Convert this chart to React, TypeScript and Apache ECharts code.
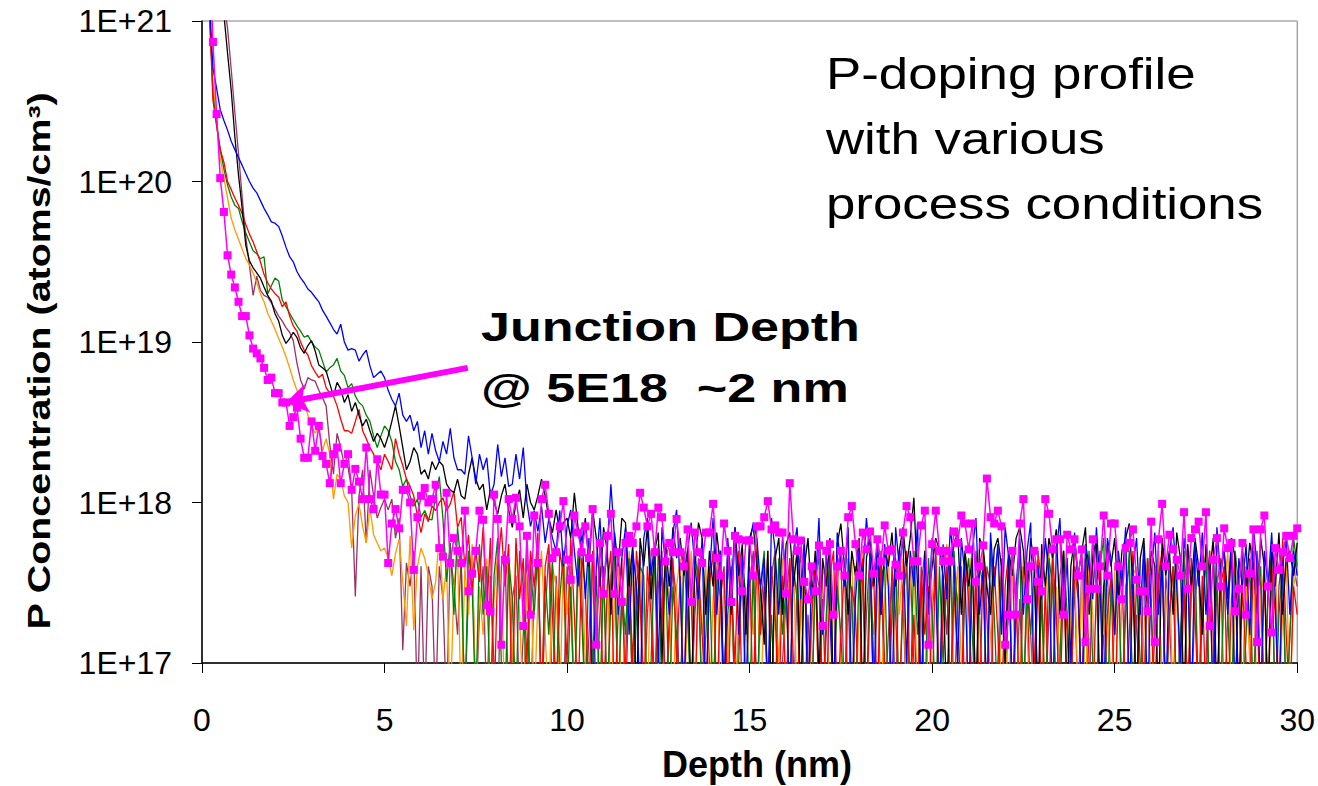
import React, { useEffect, useRef } from "react";
import * as echarts from "echarts";

// Depth grid of the SIMS profile (nm): 0.2 ... 30.0 in 0.1 nm steps
const DEPTH_START = 0.2;
const DEPTH_STEP = 0.1;
const DEPTH_COUNT = 299;
const DEPTH: number[] = Array.from({ length: DEPTH_COUNT }, (_, i) => +(DEPTH_START + DEPTH_STEP * i).toFixed(1));

// Concentrations in units of 1E+17 atoms/cm3 (values < 1 fall below the axis floor)
const MAGENTA = [
  30000, 7400, 2630, 1050, 646, 347, 263, 219, 178,
  145, 145, 110, 91, 85, 79, 69, 58, 60, 48,
  48, 42, 42, 30, 34, 39, 25, 19, 19, 32,
  21, 30, 19.5, 17.4, 13.2, 20, 22, 13.2, 17.4, 20,
  12, 16.2, 13.5, 10.5, 22, 10.5, 9.1, 18.6, 11.2, 11.2,
  4.2, 7.4, 9.1, 6.9, 12, 12, 10, 3.8, 8.1, 11,
  12.3, 10, 10.5, 12.9, 5.2, 4.6, 11.5, 4.2, 6, 5,
  4.2, 8.9, 2.8, 3.6, 5, 8.9, 7.8, 2.3, 2.1, 11.2,
  7.9, 1.3, 4.4, 10.5, 7.9, 10.7, 7.1, 1.7, 6.2, 2,
  8.3, 4.2, 10.5, 12.9, 8.5, 4.5, 4.9, 7.1, 10.2, 4.4,
  3.3, 8.3, 6.5, 4.9, 7.1, 4.5, 9.1, 1.3, 5.6, 2.7,
  6.2, 8.5, 2.7, 4.9, 2.4, 5.6, 6.2, 5.6, 7.1, 11.5,
  9.3, 7.1, 8.5, 4.9, 9.3, 8.1, 4.3, 5.6, 4.9, 7.9,
  4.9, 4, 6.8, 2.4, 6.5, 4.9, 4.2, 6.5, 6.5, 9.8,
  4.5, 3.5, 7.4, 5, 2.4, 6.2, 5.9, 2.8, 5.8, 5.8,
  3.5, 7.1, 7.1, 8.1, 10.2, 6.8, 7.2, 6.5, 6.5, 2.7,
  13.2, 5.9, 5, 5.8, 3.2, 2.5, 4, 2.8, 5.4, 1.7,
  5, 5.5, 2, 4, 5, 3.5, 8.1, 9.5, 5.5, 3.5,
  6.5, 5.1, 6.6, 3.6, 5.9, 4.3, 7.2, 5, 5.1, 4.1,
  3.5, 6.5, 9.5, 8.1, 4.3, 4.3, 7.2, 8.9, 1.3, 5.5,
  8.9, 5, 4.3, 5, 4.3, 6.6, 5.6, 8.3, 7.4, 5.1,
  7.4, 3.2, 4, 5.4, 14.1, 8.1, 7.4, 8.9, 7.1, 1.3,
  2, 5, 2, 7.4, 10.5, 2.5, 4, 5, 3.2, 2.8,
  10.5, 8.5, 5.1, 5.9, 5.9, 2, 6.3, 5.1, 5.9, 3.5,
  5.1, 1.35, 2.9, 5.9, 2.9, 4, 8.3, 3.5, 7.4, 7.4,
  4, 2.5, 5.2, 5.6, 6.8, 3.3, 2.8, 2.8, 2.1, 7.6,
  1.35, 5.9, 9.8, 4, 6.3, 5.1, 4.4, 3.5, 8.7, 2.9,
  6, 6.8, 7.6, 4, 8.7, 1.7, 4.4, 6, 3, 6.9,
  5.2, 5.6, 2.1, 2.9, 5.6, 2, 3.6, 6.8, 1.35, 6.8,
  8.3, 3, 1.55, 5.2, 3.8, 4.9, 6.2, 4.5, 6.2, 6.9,
];

const BLUE = [
  14000, 5100, 3800, 2800, 2400, 2090, 1780, 1580, 1410,
  1260, 1120, 1000, 910, 850, 760, 680, 620, 560, 550,
  525, 457, 390, 340, 316, 275, 251, 234, 214, 204,
  190, 178, 158, 145, 132, 120, 112, 129, 100, 89,
  91, 89, 76, 83, 89, 71, 60, 63, 66, 60,
  50, 44, 40, 48, 35, 32, 35, 28, 32, 22,
  28, 20, 27, 21, 18, 24, 20, 29, 19, 16,
  16, 15, 26, 19, 13, 20, 16, 19, 11, 13,
  23, 14.5, 19, 12.6, 13, 20, 14, 22, 10, 7.1,
  8.9, 6.6, 9.5, 5.6, 7.9, 6, 5, 8.9, 4, 7.1,
  9, 5, 3, 7, 2.5, 6, 0.5, 4, 8, 3,
  5, 13, 6, 2, 4.5, 7, 1.5, 5, 3, 0.5,
  6, 8, 3.5, 5.5, 1, 7, 4, 2, 6.5, 9,
  3, 0.5, 5, 7.5, 4, 2.5, 6, 0.5, 3.5, 8,
  2, 5, 0.5, 6, 3, 7, 1.5, 4.5, 0.5, 5.5,
  7.5, 6, 3, 4.5, 0.5, 8, 5, 2, 6, 3.5,
  0.5, 5, 7, 2.5, 6, 0.5, 4, 3, 8, 1.5,
  5, 2, 0.5, 6.5, 4, 3, 7, 0.5, 2.5, 5,
  3.5, 8, 4.5, 0.5, 6, 2, 5.5, 3, 0.5, 7,
  4, 6, 1, 5, 3, 7.5, 0.5, 4.5, 2, 6,
  3, 0.5, 5.5, 2.5, 7, 4, 1, 6, 3.5, 0.5,
  5, 8, 2, 4, 0.5, 6.5, 3, 5.5, 1.5, 7,
  4.5, 0.5, 3, 6, 2, 5, 7.5, 0.5, 4, 2.5,
  6, 3.5, 0.5, 5, 8, 2, 4.5, 1, 6.5, 3,
  0.5, 5.5, 4, 2.5, 7, 3, 0.5, 6, 4.5, 1.5,
  5, 3, 7, 0.5, 4, 6, 2, 5.5, 0.5, 3.5,
  6.5, 2, 4.5, 0.5, 5, 7, 3, 1, 6, 4,
  0.5, 5.5, 3, 6.5, 2, 4, 0.5, 7, 3.5, 5,
  2, 6, 0.5, 4.5, 3, 5.5, 1.5, 7, 4, 0.5,
  5, 3, 6.5, 2.5, 0.5, 4, 6, 2, 5, 3.5,
];

const BLACK = [
  40000, 30000, 25000, 18000, 11000, 6300, 3700, 1900, 1100,
  680, 400, 320, 290, 270, 250, 220, 195, 180, 150,
  135, 110, 98, 105, 115, 107, 92, 85, 95, 102,
  88, 72, 69, 66, 55, 46, 56, 51, 42, 47,
  37, 42, 35, 30, 33, 28, 24, 27, 25, 22,
  26, 32, 40, 30, 22, 16, 18, 22, 20, 15,
  16, 14, 18, 16, 18, 17, 13, 12, 11.5, 14,
  11, 10.5, 15, 19, 14, 12, 13, 9, 12, 10,
  8.5, 11, 13, 9, 7, 10, 12, 8, 13, 10,
  9, 11, 14, 11, 8, 6.5, 9, 6.5, 7.5, 8,
  6, 11.5, 7, 5, 8, 4, 9, 6, 3, 7,
  5, 2, 6.5, 4, 8, 7.5, 3, 5.5, 0.5, 6,
  4, 7, 2.5, 5, 6.5, 1, 5.5, 3, 7, 4.5,
  6, 3.5, 5, 0.5, 4, 7.5, 6, 2, 5, 3,
  6.5, 4, 0.5, 5, 2, 7, 3.5, 5.5, 1.5, 6,
  7.2, 4, 3, 1.3, 5, 0.5, 4.5, 6, 2, 5.5,
  6.5, 3, 5, 0.5, 4, 6, 2.5, 5, 0.8, 4.5,
  3, 6, 0.5, 5.5, 7.4, 4, 2, 5, 3.5, 6,
  0.5, 4.5, 6, 3, 5, 2, 5.2, 4, 6.5, 3,
  5, 7, 4, 6, 10.7, 3, 0.5, 5, 2.5, 4,
  6, 5, 3.5, 0.5, 4, 5.5, 6.8, 2, 5, 3,
  4.5, 0.5, 6, 5.2, 3, 2, 5.1, 6, 4, 1,
  5, 3.5, 6, 7, 5, 2.5, 6, 4, 0.5, 5.5,
  3, 6, 4.5, 6.8, 2, 5, 0.5, 4, 6, 3.5,
  5, 7, 2, 4.5, 6, 0.5, 3, 5.5, 4, 6,
  2.5, 5, 6, 7.4, 3, 0.5, 4.5, 6, 2, 5,
  4, 0.5, 6, 3.5, 5, 2, 6.5, 4.5, 0.5, 5.5,
  3, 6, 4, 1.5, 5.5, 3.5, 6, 0.5, 4, 5,
  2.5, 6, 4.5, 0.5, 5, 3, 5.6, 4, 2, 6,
  4, 0.5, 5.5, 3, 6.5, 2, 4.5, 5, 3.5, 5.6,
];

const RED = [
  12000, 3200, 2240, 1580, 1320, 1000, 890, 790, 710,
  630, 540, 470, 420, 365, 316, 263, 234, 214, 200,
  190, 166, 178, 145, 126, 117, 100, 89, 83, 71,
  65, 60, 63, 52, 48, 46, 40, 33, 28, 28,
  27, 32, 38, 28, 25, 22, 20, 18, 16, 20,
  18, 16, 25, 20, 17, 14, 12.6, 11, 8.3, 6.5,
  8.5, 7.6, 9.5, 8.9, 10, 10.7, 8.9, 9.8, 11.7, 7,
  8.1, 4, 6.3, 2.8, 5, 3.2, 7, 2, 6, 0.5,
  4, 7, 3, 5.5, 0.5, 6, 2.5, 4.5, 1, 5,
  3, 6.5, 0.5, 4, 5.5, 2, 0.5, 5, 3.5, 1,
  6, 2, 0.5, 4.5, 3, 0.5, 5, 1.5, 4, 0.5,
  3, 5, 0.5, 2, 4.5, 0.5, 3.5, 1, 5, 2.5,
  0.5, 4, 2, 0.5, 5.5, 3, 0.5, 2, 4.5, 1,
  3.5, 0.5, 5, 2.5, 0.5, 4, 1.5, 0.5, 3, 5,
  0.5, 2.5, 4, 0.5, 3, 1, 5, 0.5, 2, 4,
  0.5, 5.5, 1.5, 3, 0.5, 4, 2, 0.5, 3.5, 0.5,
  4.5, 1, 0.5, 3, 5, 0.5, 2, 4, 0.5, 2.5,
  0.5, 3.5, 5, 0.5, 1.5, 4, 0.5, 3, 2, 0.5,
  4.5, 0.5, 2.5, 3.5, 0.5, 5, 1, 0.5, 4, 2,
  0.5, 3, 5, 0.5, 2, 0.5, 4, 1.5, 3, 0.5,
  5.5, 0.5, 2, 4, 0.5, 3, 1, 0.5, 4.5, 2.5,
  0.5, 3.5, 0.5, 5, 2, 0.5, 4, 1.5, 0.5, 3,
  5, 0.5, 2.5, 0.5, 4, 3, 0.5, 1, 4.5, 0.5,
  3, 0.5, 5, 2, 0.5, 3.5, 1.5, 0.5, 4, 2.5,
  0.5, 4.5, 1, 0.5, 3, 5, 0.5, 2, 3.5, 0.5,
  2.5, 4, 0.5, 1.5, 5, 0.5, 3, 0.5, 4.5, 2,
  0.5, 3.5, 5, 0.5, 2, 4, 0.5, 1, 3, 0.5,
  4.5, 2, 0.5, 3.5, 0.5, 5, 1.5, 0.5, 3, 4,
  0.5, 2.5, 4.5, 0.5, 3, 1, 0.5, 5, 2, 0.5,
  3.5, 0.5, 4, 2, 0.5, 6, 1.5, 0.5, 3, 2,
];

const GREEN = [
  13000, 3500, 2240, 1580, 1200, 950, 800, 710, 680,
  560, 480, 420, 370, 355, 330, 340, 200, 224, 250,
  240, 182, 166, 151, 138, 126, 117, 107, 110, 100,
  93, 89, 76, 65, 69, 72, 79, 66, 62, 52,
  55, 46, 42, 40, 35, 32, 26, 22, 26, 30,
  28, 24, 18, 16, 12.6, 14, 11, 9.5, 10.5, 8.1,
  8.9, 7.9, 7.8, 11, 14.5, 7.9, 3.2, 5.6, 2, 7,
  4, 0.5, 5, 3, 0.5, 5.5, 2, 4, 0.5, 3.5,
  6, 1, 0.5, 4.5, 2.5, 0.5, 5, 3, 0.5, 4,
  2, 5, 0.5, 3.5, 1.5, 4.5, 0.5, 2.5, 5, 0.5,
  3, 0.5, 4.5, 2, 0.5, 5, 1, 3.5, 0.5, 4,
  0.5, 2.5, 5, 0.5, 3, 1.5, 4.5, 0.5, 2, 4,
  3.5, 0.5, 1, 5, 0.5, 2.5, 4, 0.5, 3, 1.5,
  0.5, 4.5, 2, 0.5, 5, 3, 0.5, 1.5, 4, 0.5,
  3, 5, 0.5, 2, 4, 0.5, 1, 4.5, 2.5, 0.5,
  4, 0.5, 3, 5, 0.5, 2, 0.5, 4.5, 1.5, 3,
  0.5, 4, 2.5, 0.5, 5, 1, 0.5, 3.5, 4.5, 0.5,
  2, 5, 0.5, 3, 1.5, 0.5, 4.5, 2.5, 0.5, 4,
  3, 0.5, 5, 1, 0.5, 3.5, 4, 0.5, 2, 4.5,
  0.5, 2.5, 4, 0.5, 5, 1.5, 3, 0.5, 4.5, 2,
  0.5, 4, 1, 3.5, 0.5, 5, 2, 0.5, 3, 4.5,
  1.5, 0.5, 4, 3, 0.5, 5.5, 2, 0.5, 3.5, 1,
  4.5, 0.5, 2, 5, 0.5, 3, 1.5, 4, 0.5, 2.5,
  0.5, 4.5, 3, 0.5, 1, 5, 2, 0.5, 4, 3,
  0.5, 2.5, 5, 1, 0.5, 4, 6, 0.5, 3, 1.5,
  4, 0.5, 2, 5, 0.5, 3.5, 1, 0.5, 4.5, 2.5,
  0.5, 3, 5, 0.5, 2, 4, 0.5, 1.5, 5, 0.5,
  3, 4.5, 0.5, 2, 5, 0.5, 1, 3.5, 0.5, 4,
  2, 0.5, 5, 3, 0.5, 1.5, 4.5, 0.5, 2.5, 4,
  0.5, 3, 5, 0.5, 2, 4, 0.5, 1.5, 6, 4,
];

const ORANGE = [
  11000, 4170, 2400, 1410, 1050, 790, 590, 500, 437,
  380, 331, 302, 269, 234, 200, 178, 151, 135, 120,
  105, 93, 81, 69, 58, 50, 44, 43, 35, 30,
  27, 30, 21, 25, 20, 10.5, 15, 14, 11, 10,
  5.2, 8.3, 9.8, 7.1, 5.6, 9.3, 6.3, 5.6, 5, 5.2,
  4.5, 3.5, 4.8, 5.9, 3.2, 1.7, 6.2, 1.6, 4, 5.2,
  4.5, 3.5, 2.5, 3.2, 6.2, 2.5, 4, 0.5, 3, 5,
  0.5, 4, 2, 5.5, 0.5, 3, 1.5, 4.5, 0.5, 2.5,
  5, 3, 0.5, 4, 1, 5.5, 2, 0.5, 3.5, 4.5,
  0.5, 2.5, 5, 1.5, 0.5, 4, 3, 0.5, 5, 2,
  4, 0.5, 3, 5, 1, 0.5, 4.5, 2, 0.5, 3.5,
  5, 0.5, 2.5, 4, 0.5, 1.5, 5, 3, 0.5, 4,
  2, 0.5, 5, 3.5, 1, 0.5, 4.5, 2.5, 0.5, 3,
  4.5, 0.5, 2, 5, 0.5, 3, 1.5, 4, 0.5, 2.5,
  5, 0.5, 3.5, 1, 4.5, 0.5, 2, 5, 0.5, 3,
  1.5, 4, 0.5, 2.5, 5, 0.5, 3, 1, 4.5, 0.5,
  3, 5, 0.5, 2, 4, 0.5, 1.5, 5, 0.5, 3.5,
  4, 0.5, 2.5, 5, 1, 0.5, 3.5, 4.5, 0.5, 2,
  5, 0.5, 3, 1.5, 4, 0.5, 2.5, 5, 0.5, 3.5,
  2, 4.5, 0.5, 3, 5, 0.5, 1.5, 4, 0.5, 2.5,
  4.5, 0.5, 3, 5.5, 0.5, 2, 4, 1, 0.5, 3.5,
  5, 0.5, 2.5, 4, 0.5, 1.5, 3.5, 5, 0.5, 2,
  0.5, 4, 3, 0.5, 5, 1.5, 0.5, 3.5, 4.5, 0.5,
  2.5, 5, 0.5, 3, 1, 4.5, 0.5, 2, 5, 0.5,
  3.5, 0.5, 4.5, 2, 0.5, 5, 1.5, 3, 0.5, 4,
  0.5, 2.5, 5, 0.5, 3.5, 4, 0.5, 1.5, 4.5, 0.5,
  3, 5, 0.5, 2, 4.5, 0.5, 3.5, 1, 5, 0.5,
  2.5, 4, 0.5, 3, 5, 0.5, 1.5, 4.5, 0.5, 3,
  5, 0.5, 2, 4, 0.5, 3.5, 1, 5, 0.5, 2.5,
  4, 0.5, 3, 5, 0.5, 2, 4.5, 0.5, 3, 4,
];

const MAROON = [
  50000, 40000, 30000, 20000, 13000, 9000, 5000, 2700, 1500,
  800, 450, 300, 195, 257, 210, 195, 190, 175, 160,
  145, 135, 123, 115, 102, 74, 58, 51, 60, 58,
  57, 50, 45, 40, 23, 15, 27, 22, 17, 16.6,
  12, 2.6, 11, 16, 5.6, 16, 11, 8, 9.3, 10.5,
  9, 10.5, 6, 8, 1.2, 4.2, 3, 5, 0.5, 4,
  0.5, 4, 3, 0.5, 4, 2.5, 0.5, 5, 3, 1.5,
  4.5, 0.5, 3, 5, 0.5, 2, 4, 0.5, 3.5, 1,
  0.5, 4, 5, 0.5, 2.5, 3.5, 0.5, 1.5, 5, 0.5,
  3, 4.5, 0.5, 2, 5, 0.5, 3.5, 1, 0.5, 4,
  2.5, 0.5, 5, 3, 0.5, 1.5, 4.5, 0.5, 2, 4,
  0.5, 3.5, 5, 0.5, 2.5, 1, 4, 0.5, 3, 5,
  0.5, 2, 4.5, 0.5, 3, 5, 0.5, 1.5, 4, 2.5,
  0.5, 5, 3, 0.5, 2, 4.5, 0.5, 3.5, 1, 0.5,
  4, 2.5, 0.5, 5, 3, 0.5, 1.5, 4, 0.5, 3,
  5, 0.5, 2, 4, 0.5, 3.5, 5, 0.5, 1, 2.5,
  4.5, 0.5, 3, 5, 0.5, 2, 0.5, 4, 3, 0.5,
  1.5, 4.5, 0.5, 3, 5, 0.5, 2.5, 0.5, 4, 3.5,
  0.5, 2, 5, 0.5, 3, 4.5, 0.5, 1.5, 3.5, 0.5,
  5, 2.5, 0.5, 4, 1, 0.5, 3, 5, 0.5, 2,
  4, 0.5, 3.5, 1.5, 5, 0.5, 2.5, 4, 0.5, 3,
  0.5, 5, 2, 0.5, 4, 3, 0.5, 1, 4.5, 0.5,
  3, 5, 0.5, 2.5, 0.5, 4, 1.5, 0.5, 5, 3,
  0.5, 2, 4.5, 0.5, 3.5, 5, 0.5, 1, 3, 0.5,
  4.5, 2.5, 0.5, 5, 3, 0.5, 1.5, 4, 0.5, 2,
  5, 0.5, 3, 4, 0.5, 2, 0.5, 4.5, 3, 0.5,
  1.5, 5, 0.5, 3.5, 2, 0.5, 4.5, 0.5, 3, 5,
  0.5, 2.5, 4, 0.5, 1, 5, 0.5, 3, 4.5, 0.5,
  2, 5, 0.5, 3.5, 0.5, 4, 1.5, 0.5, 5, 3,
  0.5, 2.5, 4.5, 0.5, 3, 5, 0.5, 1.5, 4, 3,
];

const Y_TICK_LABELS = ["1E+17", "1E+18", "1E+19", "1E+20", "1E+21"];
const X_TITLE = "Depth (nm)";
const Y_TITLE = "P Concentration (atoms/cm³)";
const NOTE_LINES = ["P-doping profile", "with various", "process conditions"];
const JUNCTION_LINES = ["Junction Depth", "@ 5E18  ~2 nm"];
// arrow from the label to the magenta curve at ~2 nm, 5E18 (depth nm, 1E17 units)
const ARROW_FROM = [7.28, 69];
const ARROW_TO = [2.3, 42];

const FONT = "'Liberation Sans', Arial, Helvetica, sans-serif";

const LINES = [
  { name: "maroon", color: "#993366", data: MAROON },
  { name: "orange", color: "#FF9900", data: ORANGE },
  { name: "green", color: "#008000", data: GREEN },
  { name: "red", color: "#FF0000", data: RED },
  { name: "black", color: "#000000", data: BLACK },
  { name: "blue", color: "#0000FF", data: BLUE },
];

export default function App() {
  const ref = useRef<HTMLDivElement>(null);
  useEffect(() => {
    document.body.style.margin = "0";
    if (!ref.current) return;
    const chart = echarts.init(ref.current, undefined, { renderer: "svg" });
    const pair = (vals: number[]) => vals.map((v, i) => [DEPTH[i], v]);
    const series: any[] = LINES.map((s) => ({
      name: s.name,
      type: "line",
      data: pair(s.data),
      symbol: "none",
      showSymbol: false,
      clip: true,
      lineStyle: { color: s.color, width: 1.3 },
      itemStyle: { color: s.color },
    }));
    series.push({
      name: "magenta",
      type: "line",
      data: pair(MAGENTA),
      symbol: "rect",
      symbolSize: 8,
      showSymbol: true,
      clip: true,
      lineStyle: { color: "#FF00FF", width: 1.5 },
      itemStyle: { color: "#FF00FF" },
      z: 5,
      markLine: {
        silent: true,
        animation: false,
        symbol: ["none", "arrow"],
        symbolSize: 22,
        label: { show: false },
        lineStyle: { color: "#FF00FF", width: 6, type: "solid" },
        data: [[{ coord: ARROW_FROM }, { coord: ARROW_TO }]],
      },
    });

    const graphic: any[] = [];
    NOTE_LINES.forEach((t, i) => {
      graphic.push({
        type: "text",
        x: 826,
        y: 74 + i * 65,
        scaleX: 1.2,
        style: {
          text: t,
          font: `44px ${FONT}`,
          fill: "#000",
          align: "left",
          verticalAlign: "middle",
          textAlign: "left",
          textVerticalAlign: "middle",
        },
      });
    });
    JUNCTION_LINES.forEach((t, i) => {
      graphic.push({
        type: "text",
        x: 481,
        y: 327 + i * 61,
        scaleX: 1.27,
        style: {
          text: t,
          font: `bold 41px ${FONT}`,
          fill: "#000",
          align: "left",
          verticalAlign: "middle",
          textAlign: "left",
          textVerticalAlign: "middle",
        },
      });
    });
    graphic.push({
      type: "text",
      x: 40,
      y: 361,
      rotation: Math.PI / 2,
      scaleX: 1.27,
      style: {
        text: Y_TITLE,
        font: `bold 31px ${FONT}`,
        fill: "#000",
        align: "center",
        verticalAlign: "middle",
        textAlign: "center",
        textVerticalAlign: "middle",
      },
    });
    graphic.push({
      type: "text",
      x: 757,
      y: 764,
      style: {
        text: X_TITLE,
        font: `bold 36px ${FONT}`,
        fill: "#000",
        align: "center",
        verticalAlign: "middle",
        textAlign: "center",
        textVerticalAlign: "middle",
      },
    });

    chart.setOption({
      animation: false,
      backgroundColor: "#fff",
      grid: {
        left: 202,
        right: 20,
        top: 21,
        bottom: 123,
        show: true,
        borderColor: "#808080",
        borderWidth: 1,
        backgroundColor: "transparent",
      },
      xAxis: {
        type: "value",
        min: 0,
        max: 30,
        interval: 5,
        axisLine: { show: true, lineStyle: { color: "#000", width: 1.5 } },
        axisTick: { show: true, inside: false, length: 10, lineStyle: { color: "#000" } },
        axisLabel: { fontSize: 32, fontFamily: FONT, color: "#000", margin: 41 },
        splitLine: { show: false },
      },
      yAxis: {
        type: "log",
        logBase: 10,
        min: 1,
        max: 10000,
        axisLine: { show: true, lineStyle: { color: "#000", width: 1.5 } },
        axisTick: { show: true, inside: false, length: 10, lineStyle: { color: "#000" } },
        axisLabel: {
          fontSize: 32,
          fontFamily: FONT,
          color: "#000",
          margin: 30,
          formatter: (v: number) => Y_TICK_LABELS[Math.round(Math.log10(v))] ?? "",
        },
        minorTick: { show: false },
        splitLine: { show: false },
      },
      series,
      graphic,
    });
    return () => chart.dispose();
  }, []);
  return <div ref={ref} style={{ width: 1318, height: 786 }} />;
}
